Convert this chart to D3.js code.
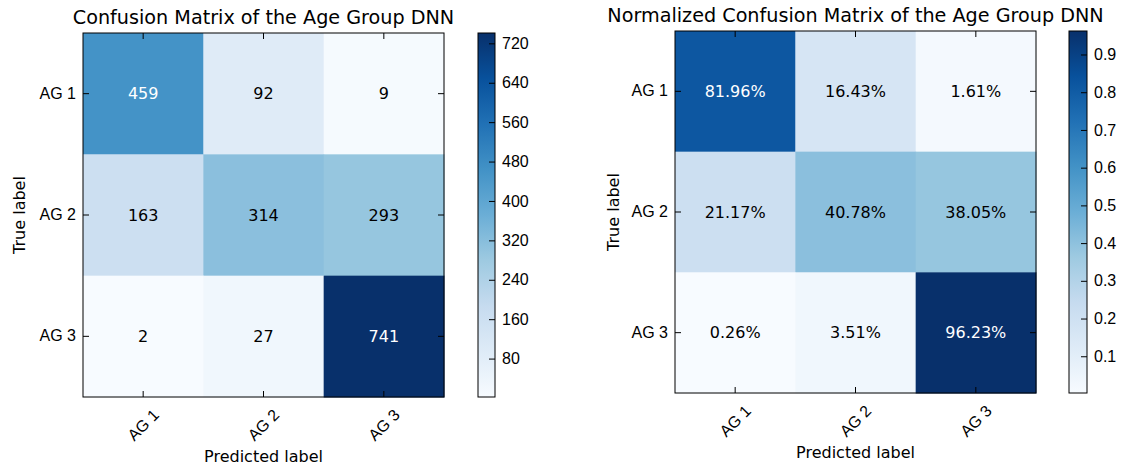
<!DOCTYPE html>
<html>
<head>
<meta charset="utf-8">
<script src="https://cdn.jsdelivr.net/npm/d3@7"></script>
<style>
    body { margin: 0; background: #fff; }
    svg { font-family: "DejaVu Sans", sans-serif; }
    .axis text { font-size: 16px; fill: #000; }
    .axis line { stroke: #000; }
    .axis path { display: none; }
</style>
</head>
<body>
<div id="chart"></div>
<script>

// values
const classes = ["AG 1", "AG 2", "AG 3"];
const counts = [
    [459, 92, 9],
    [163, 314, 293],
    [2, 27, 741]
];
const normPercent = [
    [81.96, 16.43, 1.61],
    [21.17, 40.78, 38.05],
    [0.26, 3.51, 96.23]
];
const countTicks = [80, 160, 240, 320, 400, 480, 560, 640, 720];
const normTicks = [0.1, 0.2, 0.3, 0.4, 0.5, 0.6, 0.7, 0.8, 0.9];

// matplotlib "Blues"
const blues = ["#f7fbff", "#deebf7", "#c6dbef", "#9ecae1", "#6baed6", "#4292c6", "#2171b5", "#08519c", "#08306b"];

const svg = d3.select("#chart").append("svg")
    .attr("width", 1126)
    .attr("height", 468);

let gradCount = 0;

class ConfusionMatrix {

    constructor(_svg, _data, _config) {
        this.svg = _svg;
        this.data = _data;
        this.config = _config;
        this.initVis();
    }

    initVis() {
        let vis = this;
        let c = vis.config;

        vis.g = vis.svg.append("g")
            .attr("transform", "translate(" + c.left + "," + c.top + ")");

        vis.x = d3.scaleBand().domain(classes).range([0, c.width]);
        vis.y = d3.scaleBand().domain(classes).range([0, c.height]);

        let flat = vis.data.flat();
        vis.extent = d3.extent(flat);
        vis.thresh = vis.extent[1] / 2;

        let stops = d3.range(blues.length).map(i => vis.extent[0] + i * (vis.extent[1] - vis.extent[0]) / (blues.length - 1));
        vis.color = d3.scaleLinear().domain(stops).range(blues).interpolate(d3.interpolateRgb);

        vis.cells = [];
        vis.data.forEach((row, i) => row.forEach((v, j) => {
            vis.cells.push({ row: classes[i], col: classes[j], value: v });
        }));

        vis.updateVis();
    }

    updateVis() {
        let vis = this;
        let c = vis.config;

        // cells
        vis.g.selectAll("rect.cell")
            .data(vis.cells)
            .enter()
            .append("rect")
            .attr("class", "cell")
            .attr("x", d => vis.x(d.col))
            .attr("y", d => vis.y(d.row))
            .attr("width", vis.x.bandwidth() + 0.5)
            .attr("height", vis.y.bandwidth() + 0.5)
            .attr("fill", d => vis.color(d.value));

        vis.g.selectAll("text.cell-label")
            .data(vis.cells)
            .enter()
            .append("text")
            .attr("class", "cell-label")
            .attr("x", d => vis.x(d.col) + vis.x.bandwidth() / 2)
            .attr("y", d => vis.y(d.row) + vis.y.bandwidth() / 2)
            .attr("dy", "0.35em")
            .attr("text-anchor", "middle")
            .attr("font-size", 16)
            .attr("fill", d => d.value > vis.thresh ? "#fff" : "#000")
            .text(d => c.format(d.value));

        // axes, ticks inward like matplotlib classic
        vis.g.append("g")
            .attr("class", "axis")
            .call(d3.axisLeft(vis.y).tickSize(-6).tickPadding(7));

        vis.g.append("g")
            .attr("class", "axis")
            .attr("transform", "translate(" + c.width + ",0)")
            .call(d3.axisRight(vis.y).tickSize(-6).tickFormat(""));

        vis.g.append("g")
            .attr("class", "axis")
            .call(d3.axisTop(vis.x).tickSize(-6).tickFormat(""));

        let xAxis = vis.g.append("g")
            .attr("class", "axis")
            .attr("transform", "translate(0," + c.height + ")")
            .call(d3.axisBottom(vis.x).tickSize(-6));

        xAxis.selectAll("text")
            .attr("y", null)
            .attr("dy", "0.35em")
            .attr("text-anchor", "middle")
            .attr("transform", "translate(0,28) rotate(-45)");

        // frame
        vis.g.append("rect")
            .attr("width", c.width)
            .attr("height", c.height)
            .attr("fill", "none")
            .attr("stroke", "#000")
            .attr("stroke-width", 1);

        // title and labels
        vis.g.append("text")
            .attr("x", c.width / 2)
            .attr("y", -9)
            .attr("text-anchor", "middle")
            .attr("font-size", 19.2)
            .text(c.title);

        vis.g.append("text")
            .attr("x", c.width / 2)
            .attr("y", c.height + 59)
            .attr("dy", "0.35em")
            .attr("text-anchor", "middle")
            .attr("font-size", 16)
            .text("Predicted label");

        vis.g.append("text")
            .attr("transform", "translate(" + c.yLabelX + "," + (c.height / 2) + ") rotate(-90)")
            .attr("dy", "0.35em")
            .attr("text-anchor", "middle")
            .attr("font-size", 16)
            .text("True label");

        // colorbar
        let id = "grad" + (gradCount++);
        let grad = vis.svg.append("defs").append("linearGradient")
            .attr("id", id)
            .attr("x1", 0).attr("y1", 1).attr("x2", 0).attr("y2", 0);

        blues.forEach((col, i) => {
            grad.append("stop")
                .attr("offset", i / (blues.length - 1))
                .attr("stop-color", col);
        });

        let cb = vis.g.append("g")
            .attr("transform", "translate(" + c.cbarX + ",0)");

        let cy = d3.scaleLinear().domain(vis.extent).range([c.height, 0]);

        cb.append("rect")
            .attr("width", c.cbarW)
            .attr("height", c.height)
            .attr("fill", "url(#" + id + ")");

        cb.append("g")
            .attr("class", "axis")
            .attr("transform", "translate(" + c.cbarW + ",0)")
            .call(d3.axisRight(cy).tickValues(c.ticks).tickSize(-6).tickPadding(7).tickFormat(c.tickFormat));

        cb.append("rect")
            .attr("width", c.cbarW)
            .attr("height", c.height)
            .attr("fill", "none")
            .attr("stroke", "#000")
            .attr("stroke-width", 1);
    }
}

new ConfusionMatrix(svg, counts, {
    left: 83, top: 33, width: 361, height: 364,
    title: "Confusion Matrix of the Age Group DNN",
    format: d => d,
    ticks: countTicks,
    tickFormat: d3.format("d"),
    cbarX: 395, cbarW: 17,
    yLabelX: -64
});

new ConfusionMatrix(svg, normPercent.map(r => r.map(v => v / 100)), {
    left: 675, top: 31, width: 361, height: 362,
    title: "Normalized Confusion Matrix of the Age Group DNN",
    format: d => (d * 100).toFixed(2) + "%",
    ticks: normTicks,
    tickFormat: d3.format(".1f"),
    cbarX: 394, cbarW: 18,
    yLabelX: -62
});

</script>
</body>
</html>
